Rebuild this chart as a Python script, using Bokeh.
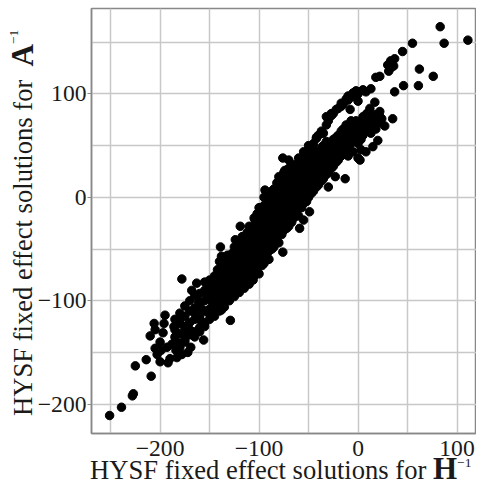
from bokeh.plotting import figure
from bokeh.models import Range1d, FixedTicker, Div
from bokeh.layouts import row, column
from bokeh.embed import file_html
from bokeh.resources import INLINE

# ---- data ----
# scattered points around the main band
out_h = [-251, -239, -228, -227, -225, -209, -214, -210, -206, -203, -200, -195, -196, -205,
         -199, -193, -190, -185, -184, -178, -181, -176, -178, -173, -169, -166, -168, -163,
         -161, -158, -156, -153, -151, -149, -146, -143, -141, -138, -139, -138, -134, -131,
         -129, -128, -124, -124, -119, -117, -114, -109, -106, -104, -101, -96, -94, -91,
         -89, -86, -77, -76, -74, -76, -70, -67, -64, -59, -55, -50, -49, -45, -45, -42,
         -37, -37, -32, -30, -27, -23, -20, -17, -13, -10, -8, -3, 0, 2, 3, 5, 8, 12, 15,
         13, 17, 20, 22, 24, 18, 27, 35, 22, 30, 33, 37, 33, 36, 31, 37, 45, 46, 55, 61,
         62, 76, 83, 87, 111,
         -205, -200, -197, -192, -188, -186, -183, -180, -175, -172, -170, -165, -160, -158, -155]
out_a = [-211, -203, -192, -190, -163, -173, -157, -134, -122, -152, -159, -114, -122, -146,
         -148, -145, -156, -135, -148, -152, -141, -132, -79, -124, -145, -111, -90, -83,
         -101, -120, -138, -93, -112, -82, -99, -90, -107, -109, -48, -57, -67, -90,
         -119, -73, -41, -64, -28, -83, -54, -48, -80, -22, -61, -57, 7, -41,
         -3, -31, 18, 38, 26, -53, 36, 17, -11, -30, -22, 4, -14, 46, 36, 57,
         62, 17, 78, 10, 81, 20, 55, 88, 18, 94, 85, 62, 93, 36, 46, 104, 102, 86, 49,
         105, 92, 55, 83, 76, 116, 69, 76, 117, 128, 132, 134, 125, 127, 122, 102, 141, 108, 149, 108,
         124, 117, 165, 149, 152,
         -128, -140, -131, -160, -142, -125, -155, -118, -140, -150, -128, -135, -130, -108, -125]

# dense band: H^-1 value of each column and the A^-1 values stacked in it
band_h = [-185, -180, -175, -170, -165, -160, -155, -150, -147, -145, -142, -140, -137, -135,
          -132, -130, -127, -125, -122, -120, -117, -115, -112, -110, -107, -105, -102, -100,
          -97, -95, -92, -90, -87, -85, -82, -80, -77, -75, -72, -70, -67, -65, -62, -60,
          -57, -55, -52, -50, -47, -45, -42, -40, -37, -35, -32, -30, -27, -25, -22, -20,
          -17, -15, -12, -10, -7, -5, -2, 0, 3, 5, 8, 10, 13, 15, 18, 22]
band_a = [
    [-140, -128, -118], [-145, -132, -122, -112], [-138, -126, -115, -105],
    [-133, -121, -110, -100], [-130, -118, -107, -95], [-126, -115, -104, -93],
    [-122, -110, -100, -90, -82], [-118, -108, -98, -88, -80], [-112, -102, -93, -85],
    [-115, -104, -95, -86, -76], [-108, -98, -88, -80, -70], [-110, -100, -90, -82, -72, -62],
    [-104, -94, -85, -76, -66], [-106, -96, -86, -78, -70, -60],
    [-98, -90, -82, -72, -64, -56], [-100, -92, -84, -76, -68, -58],
    [-94, -86, -78, -70, -62, -54], [-96, -88, -80, -72, -64, -56, -48],
    [-90, -82, -74, -66, -58, -50], [-92, -84, -76, -68, -60, -52, -44],
    [-86, -78, -70, -62, -54, -46, -38], [-88, -80, -72, -64, -56, -48, -40],
    [-82, -74, -66, -58, -50, -42, -34], [-84, -76, -68, -60, -52, -44, -36, -28],
    [-78, -70, -62, -54, -46, -38, -30], [-76, -68, -60, -52, -44, -36, -28, -20],
    [-72, -64, -56, -48, -40, -32, -24, -16], [-74, -66, -58, -50, -42, -34, -26, -18, -10],
    [-66, -58, -50, -42, -34, -26, -18, -10], [-64, -56, -48, -40, -32, -24, -16, -8, 0],
    [-58, -50, -42, -34, -26, -18, -10, -2], [-60, -52, -44, -36, -28, -20, -12, -4, 4],
    [-50, -42, -34, -26, -18, -10, -2, 6], [-48, -40, -32, -24, -16, -8, 0, 8],
    [-42, -34, -26, -18, -10, -2, 6, 14], [-44, -36, -28, -20, -12, -4, 4, 12, 20],
    [-36, -28, -20, -12, -4, 4, 12, 20], [-32, -24, -16, -8, 0, 8, 16, 24],
    [-30, -22, -14, -6, 2, 10, 18, 26], [-28, -20, -12, -4, 4, 12, 20, 28],
    [-24, -16, -8, 0, 8, 16, 24, 32], [-20, -12, -4, 4, 12, 20, 28],
    [-16, -8, 0, 8, 16, 24, 32], [-18, -10, -2, 6, 14, 22, 30, 38],
    [-10, -2, 6, 14, 22, 30, 38], [-6, 2, 10, 18, 26, 34, 44],
    [-4, 4, 12, 20, 28, 36], [0, 8, 16, 24, 32, 40, 50],
    [4, 12, 20, 28, 36, 46], [6, 14, 22, 30, 38, 52],
    [10, 18, 26, 34, 42, 58], [12, 20, 28, 36, 44, 60],
    [16, 24, 32, 40, 48, 64], [18, 26, 34, 42, 50, 62],
    [22, 30, 38, 46, 54, 70], [24, 32, 40, 48, 74],
    [28, 36, 44, 52, 79], [30, 38, 46, 56, 81],
    [34, 42, 50, 58, 85], [36, 44, 52, 60, 86],
    [40, 48, 56, 64, 91], [42, 50, 58, 66, 90],
    [46, 54, 62, 70, 95], [40, 50, 58, 66, 98],
    [52, 60, 68, 74, 97], [44, 56, 64, 72, 101],
    [58, 66, 74, 103], [38, 52, 62, 70, 100],
    [56, 66, 74], [60, 70, 78], [44, 64, 72, 80], [68, 76, 82],
    [62, 72, 78], [70, 78], [66, 74, 80], [72, 78],
]

x_ticks = [-200, -100, 0, 100]
y_ticks = [-200, -100, 0, 100]
x_minor = [-250, -150, -50, 50, 150]
y_minor = [-150, -50, 50, 150]

x_title = "HYSF fixed effect solutions for"
y_title = "HYSF fixed effect solutions for"

# ---- build ----
hx = list(out_h)
ay = list(out_a)
for h, col in zip(band_h, band_a):
    for a in col:
        hx.append(h)
        ay.append(a)

p = figure(width=442, height=463, output_backend="svg", toolbar_location=None,
           x_range=Range1d(-269.3, 119.7), y_range=Range1d(-228.4, 182.6),
           min_border_left=55, min_border_right=0, min_border_top=8, min_border_bottom=30,
           background_fill_color="white", border_fill_color="white")

p.outline_line_color = "#888888"
p.outline_line_width = 1.5

p.xaxis.ticker = FixedTicker(ticks=x_ticks, minor_ticks=x_minor)
p.yaxis.ticker = FixedTicker(ticks=y_ticks, minor_ticks=y_minor)
for g in (p.xgrid, p.ygrid):
    g.grid_line_color = "#c8c8c8"
    g.grid_line_width = 1.5
    g.minor_grid_line_color = "#c8c8c8"
    g.minor_grid_line_width = 1.5

p.axis.axis_line_color = "#888888"
p.axis.axis_line_width = 1.5
p.axis.minor_tick_line_color = None
p.axis.major_label_text_font = "Liberation Serif"
p.axis.major_label_text_font_size = "23.6px"
p.axis.major_label_text_color = "#1a1a1a"
p.xaxis.major_tick_out = 0
p.xaxis.major_tick_in = 0
p.xaxis.major_label_standoff = 3
p.yaxis.major_tick_out = 4
p.yaxis.major_tick_in = 0
p.yaxis.major_tick_line_color = "#888888"
p.yaxis.major_label_standoff = 1

p.scatter(hx, ay, size=8.5, color="black", line_color="black")

base = ("font-family:'Liberation Serif',serif; font-size:26.6px; "
        "color:#1a1a1a; white-space:nowrap; overflow:visible;")
bold = "font-weight:bold; font-size:31px; line-height:12px;"
sup = "font-size:13.5px; line-height:12px; position:relative;"

x_html = (f'<div style="{base} line-height:14px; width:436px; box-sizing:border-box; height:17px; padding-left:56px;">{x_title} '
          f'<span style="{bold}">H</span><span style="{sup} top:-12px;">\u22121</span></div>')
y_html = (f'<div style="{base} line-height:19px; writing-mode:vertical-rl; transform:rotate(180deg); '
          f'width:33px; height:480px; box-sizing:border-box; padding-top:64px; padding-right:14px;">'
          f'{y_title}&nbsp;&nbsp;<span style="{bold}">A</span>'
          f'<span style="{sup} left:9px;">\u22121</span></div>')

xdiv = Div(text=x_html, width=442, height=17, margin=(0, 0, 0, 0))
ydiv = Div(text=y_html, width=34, height=480, margin=(0, 0, 0, 0))

layout = row(ydiv, column(p, xdiv, spacing=0), spacing=0)

open("out.html", "w").write(file_html(layout, INLINE))
